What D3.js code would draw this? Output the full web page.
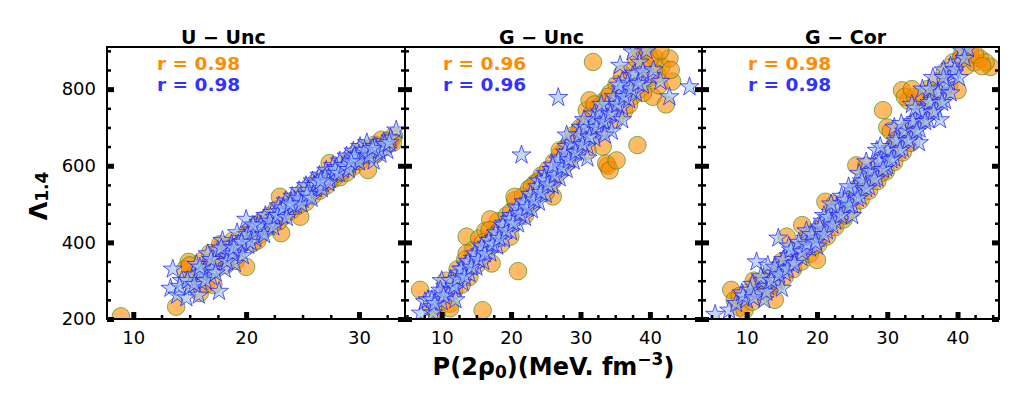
<!DOCTYPE html>
<html>
<head>
<meta charset="utf-8">
<script src="https://cdn.jsdelivr.net/npm/d3@7"></script>
<style>
  body { margin: 0; background: #fff; }
  svg { font-family: "DejaVu Sans", sans-serif; }
</style>
</head>
<body>
<div id="chart"></div>
<script>
// panel labels and correlation values
const panelTitles = ["U \u2212 Unc", "G \u2212 Unc", "G \u2212 Cor"];
const rOrange = ["0.98", "0.96", "0.98"];
const rBlue = ["0.98", "0.96", "0.98"];
const yTicks = [200, 400, 600, 800];
const xTicks = [[10, 20, 30], [10, 20, 30, 40], [10, 20, 30, 40]];

// [P(2rho0), Lambda_1.4]
const uUncCircles = [[8.9,207],[13.8,232],[14.9,349],[14.6,330],[15.2,300],[15.5,318],[15.9,268],[16.1,352],[16.4,290],[16.8,372],[17.1,289],[17.3,335],[17.6,360],[17.9,392],[18.2,341],[18.5,378],[18.8,404],[19.1,352],[19.4,392],[19.8,418],[20.0,336],[20.3,430],[20.6,398],[20.9,446],[21.2,420],[21.5,458],[21.8,437],[22.1,470],[22.4,448],[22.7,486],[23.0,519],[23.1,424],[23.4,470],[23.7,498],[24.0,482],[24.3,512],[24.8,467],[25.0,530],[25.3,505],[25.6,545],[25.9,522],[26.2,558],[26.5,535],[26.8,570],[27.1,548],[27.4,607],[27.7,565],[28.0,590],[28.3,570],[28.6,604],[28.9,582],[29.2,620],[29.5,598],[29.8,634],[30.1,612],[30.4,645],[30.8,589],[31.1,628],[31.4,655],[31.7,640],[32.0,668],[32.3,648],[32.8,662],[33.1,678],[22.9,455],[24.6,496],[26.0,540],[27.9,578],[19.0,380],[18.0,365],[21.0,405],[29.5,610],[31.0,640],
  [15.0,340],[16.0,310],[17.0,350],[18.6,360],[19.6,395],[21.4,440],[22.2,455],[23.5,485],[24.5,510],[25.2,520],[26.4,545],[27.3,560],[28.4,585],[29.0,600],[30.2,625],[31.5,630],[32.6,665],[17.7,395],[20.7,420],[33.0,660]];
const uUncStars = [[13.3,280],[13.5,330],[13.9,262],[14.3,300],[14.7,255],[15.0,282],[15.3,315],[15.6,342],[15.8,262],[16.0,296],[16.3,325],[16.6,370],[16.9,310],[17.2,348],[17.5,380],[17.6,272],[17.9,405],[18.1,330],[18.4,362],[18.7,395],[19.0,345],[19.2,425],[19.5,378],[19.8,410],[20.0,460],[20.2,392],[20.5,432],[20.8,410],[21.1,452],[21.4,425],[21.7,470],[22.0,440],[22.3,478],[22.6,455],[22.9,495],[23.2,470],[23.5,508],[23.8,485],[24.1,520],[24.4,498],[24.7,535],[25.0,512],[25.3,548],[25.6,522],[25.9,560],[26.2,540],[26.5,575],[26.8,552],[27.1,588],[27.4,565],[27.7,600],[28.0,578],[28.3,612],[28.6,590],[28.9,625],[29.2,602],[29.5,638],[29.8,615],[30.1,650],[30.4,625],[30.7,660],[31.0,640],[31.3,612],[31.6,648],[31.9,630],[32.2,662],[32.5,640],[33.3,693],[32.8,672],[21.0,440],[22.5,465],[24.0,505],[26.0,548],[28.0,595],[30.0,630],[18.5,375],[17.0,330],[16.0,320],[23.0,480],[25.5,535],[27.5,580],[29.5,620],
  [14.1,285],[14.8,300],[15.4,290],[15.9,335],[16.4,300],[16.9,355],[17.3,320],[17.8,385],[18.3,350],[18.8,370],[19.3,395],[19.7,365],[20.1,420],[20.4,400],[20.9,430],[21.3,445],[21.6,420],[22.1,455],[22.4,440],[22.8,470],[23.3,490],[23.6,465],[24.2,495],[24.6,515],[24.9,500],[25.4,525],[25.8,515],[26.3,555],[26.7,540],[27.0,570],[27.3,555],[27.9,590],[28.2,580],[28.7,600],[29.1,590],[29.6,625],[30.0,610],[30.5,640],[30.9,625],[31.4,650],[31.8,640],[32.3,655],[32.7,660],[20.6,445],[19.6,400],[18.9,385],[23.9,500],[26.6,560],[29.3,610],[31.2,645]];

const gUncCircles = [[6.9,276],[8.5,230],[9.3,215],[10.0,260],[10.6,300],[11.2,240],[11.8,275],[12.3,330],[12.9,290],[13.4,355],[13.6,415],[14.0,310],[14.5,380],[15.0,340],[15.4,410],[15.9,362],[16.3,430],[16.8,385],[17.2,345],[17.6,420],[18.1,455],[18.5,395],[19.0,440],[19.4,470],[19.9,415],[20.3,460],[20.6,510],[21.0,325],[21.2,478],[21.7,520],[22.1,495],[22.6,540],[23.0,500],[23.5,555],[24.0,530],[24.4,575],[24.9,548],[25.3,590],[25.8,565],[26.2,610],[26.7,580],[27.1,630],[27.6,600],[28.0,650],[28.5,620],[28.9,665],[29.4,640],[29.8,690],[30.3,660],[30.7,710],[31.2,680],[31.8,871],[31.6,735],[32.1,700],[32.6,755],[33.0,720],[33.5,770],[33.9,600],[34.3,790],[34.7,745],[35.2,812],[35.6,760],[36.5,800],[37.0,830],[37.4,780],[37.8,850],[38.2,654],[38.6,800],[39.0,860],[39.5,906],[40.0,830],[40.4,780],[40.8,880],[41.3,810],[41.7,860],[42.3,760],[42.8,880],[43.2,820],[36.3,745],[33.2,650],[31.0,640],[26.0,520],[17.0,460],[30.9,745],[31.3,771],[20.5,519],[16.9,432],[13.6,371],[11.2,228],[15.9,223],[33.7,606],[34.2,588],[35.2,614],[38.5,906],
  [12.0,300],[14.2,345],[16.0,400],[18.3,430],[20.0,480],[22.0,470],[24.0,560],[26.0,560],[28.0,610],[30.0,700],[32.0,760],[34.0,780],[36.0,840],[38.0,880],[40.0,880],[41.0,840],[39.0,790],[37.0,760],[35.0,720],[33.0,690],[29.0,680],[27.0,640],[25.0,530],[23.0,545],[41.5,900],[43.0,850]];
const gUncStars = [[7.0,215],[7.6,245],[8.0,250],[8.7,232],[9.4,265],[10.0,245],[10.5,285],[11.0,265],[11.5,300],[12.0,280],[12.5,320],[13.0,295],[13.5,340],[14.0,318],[14.5,358],[15.0,335],[15.5,375],[16.0,350],[16.5,395],[17.0,372],[17.5,410],[18.0,390],[18.5,432],[19.0,408],[19.5,450],[20.0,428],[20.5,470],[21.0,448],[21.5,628],[21.5,490],[22.0,465],[22.5,508],[23.0,485],[23.5,528],[24.0,505],[24.5,548],[25.0,525],[25.5,570],[26.0,548],[26.5,590],[26.8,778],[27.0,568],[27.5,612],[28.0,590],[28.5,635],[29.0,612],[29.5,655],[30.0,632],[30.5,675],[31.0,652],[31.5,695],[32.0,672],[32.5,715],[33.0,692],[33.5,735],[34.0,712],[34.5,755],[35.0,732],[35.5,775],[36.0,752],[36.5,795],[37.0,772],[37.5,835],[38.0,790],[38.5,870],[39.0,810],[39.5,900],[40.0,835],[41.5,820],[45.7,806],[34.5,690],[30.0,700],[28.0,650],[25.0,580],[22.0,500],[19.0,450],[16.0,380],[13.0,330],[10.0,300],[12.0,250],[24.0,560],[32.0,735],[36.0,820],[27.0,620],[20.0,470],[8.6,250],[8.8,216],[35.7,862],[37.5,897],[42.8,780],
  [9.0,240],[9.8,275],[10.3,260],[11.2,300],[11.8,285],[12.3,305],[12.8,330],[13.3,310],[13.8,350],[14.3,335],[14.8,370],[15.3,355],[15.8,390],[16.2,370],[16.8,405],[17.3,395],[17.8,425],[18.3,410],[18.8,445],[19.3,430],[19.8,460],[20.3,450],[20.8,490],[21.3,475],[21.8,505],[22.3,490],[22.8,525],[23.3,510],[23.8,545],[24.3,530],[24.8,565],[25.3,550],[25.8,590],[26.3,575],[26.8,615],[27.3,595],[27.8,635],[28.3,615],[28.8,660],[29.3,635],[29.8,680],[30.3,655],[30.8,700],[31.3,675],[31.8,720],[32.3,700],[32.8,740],[33.3,715],[33.8,760],[34.3,735],[34.8,780],[35.3,760],[35.8,800],[36.3,780],[36.8,815],[37.3,800],[37.8,840],[38.3,815],[39.0,845],[40.5,850],[30.5,720],[33.0,760],[35.5,810],[28.0,680],[26.0,600],[31.0,620],[33.5,680],[36.0,720]];

const gCorCircles = [[7.8,276],[8.3,250],[9.0,230],[9.7,223],[10.2,270],[10.8,245],[11.3,290],[11.9,260],[12.4,300],[13.0,275],[13.6,320],[14.2,290],[14.8,340],[15.4,310],[15.7,415],[16.0,360],[16.6,330],[17.2,380],[17.9,445],[17.8,350],[18.4,400],[19.0,370],[19.6,420],[20.0,354],[20.2,395],[20.8,440],[21.2,506],[21.4,415],[22.0,465],[22.6,440],[23.2,490],[23.8,460],[24.4,515],[25.0,485],[25.6,601],[25.6,540],[26.2,510],[26.8,565],[27.4,535],[28.0,590],[28.6,560],[29.2,615],[29.4,745],[29.8,585],[30.4,640],[31.0,610],[31.6,665],[32.1,797],[32.2,635],[32.8,690],[33.4,660],[34.0,715],[34.6,780],[35.2,740],[35.8,800],[36.4,760],[37.0,820],[37.6,780],[38.2,845],[38.8,810],[39.4,870],[40.0,797],[40.6,890],[41.2,860],[41.8,897],[42.4,870],[43.2,880],[44.7,858],[44.0,870],[33.0,770],[32.5,780],[36.0,740],[30.0,700],[27.0,600],[24.0,470],[19.5,390],[14.0,250],[22.5,500],
  [9.0,260],[11.0,300],[13.0,300],[15.0,350],[17.0,360],[18.8,420],[21.0,450],[23.0,470],[25.0,520],[27.0,560],[29.0,580],[31.0,650],[33.0,700],[35.0,720],[37.0,790],[39.0,840],[40.5,880],[42.5,890],[43.5,860],[34.0,780],[33.5,800],[30.5,690]];
const gCorStars = [[5.5,212],[7.5,223],[8.5,240],[9.3,268],[10.0,250],[10.8,290],[11.4,349],[11.6,270],[12.3,300],[13.0,285],[13.6,320],[14.2,300],[14.5,411],[14.8,340],[15.4,320],[16.0,365],[16.6,340],[17.2,385],[17.8,360],[18.4,410],[19.0,385],[19.6,432],[20.2,410],[20.8,455],[21.4,430],[22.0,478],[22.6,455],[23.2,500],[23.8,475],[24.4,522],[25.0,498],[25.6,545],[26.2,520],[26.8,570],[27.4,545],[28.0,595],[28.6,568],[29.2,620],[29.8,595],[30.4,645],[31.0,620],[31.6,670],[32.2,645],[32.8,695],[33.4,670],[34.0,720],[34.6,695],[35.2,745],[35.8,720],[36.4,770],[37.0,745],[37.6,795],[38.2,770],[38.8,820],[39.4,840],[40.0,870],[40.6,900],[39.0,860],[38.0,850],[36.5,830],[35.0,800],[33.5,760],[31.0,700],[28.5,640],[26.0,580],[23.5,520],[21.0,470],[18.5,430],[16.0,390],[13.0,340],[20.0,390],[25.0,470],[30.0,600],[34.5,660],[37.5,720],[41.5,905],[12.5,250],[15.0,280],
  [9.5,260],[10.5,275],[11.0,255],[12.0,310],[12.8,270],[13.5,300],[14.0,335],[14.6,315],[15.2,355],[15.8,330],[16.3,380],[16.8,345],[17.4,400],[17.9,375],[18.6,395],[19.2,420],[19.8,400],[20.4,440],[21.0,420],[21.6,465],[22.2,445],[22.8,490],[23.4,470],[24.0,510],[24.6,495],[25.2,535],[25.8,515],[26.4,560],[27.0,540],[27.6,585],[28.2,565],[28.8,610],[29.4,590],[30.0,640],[30.6,615],[31.2,665],[31.8,640],[32.4,690],[33.0,665],[33.6,715],[34.2,690],[34.8,740],[35.4,715],[36.0,765],[36.6,740],[37.2,790],[37.8,765],[38.4,810],[39.0,790],[39.6,850],[40.2,830],[41.0,880],[32.0,710],[34.0,750],[36.0,800],[38.0,830],[29.0,650],[27.0,610],[24.5,545],[22.0,500]];

const circleSets = [uUncCircles, gUncCircles, gCorCircles];
const starSets = [uUncStars, gUncStars, gCorStars];

const width = 1028, height = 413;
const plotTop = 47, plotBottom = 319;
const panelLeft = [107, 405, 702];
const panelRight = [405, 702, 999];
const xDomains = [[7.67, 34.08], [4.72, 47.5], [3.64, 45.9]];
const titleX = [181, 499, 805];
const rX = [157, 443, 748];

const svg = d3.select("#chart")
    .append("svg")
    .attr("width", width)
    .attr("height", height);

const y = d3.scaleLinear().domain([200, 910]).range([plotBottom, plotTop]);
const yMinor = d3.range(250, 910, 50).filter(v => v % 200 !== 0);

const star = d3.symbol().type(d3.symbolStar).size(112);

function styleAxis(g, w) {
    g.select(".domain").remove();
    g.selectAll(".tick line").attr("stroke", "#000").attr("stroke-width", w);
    g.selectAll(".tick text")
        .attr("fill", "#000")
        .style("font-size", "18px")
        .style("font-family", "DejaVu Sans, sans-serif");
}

for (let i = 0; i < 3; i++) {
    const x = d3.scaleLinear().domain(xDomains[i]).range([panelLeft[i], panelRight[i]]);
    const xMinor = d3.range(2.5, 50, 2.5).filter(v => v % 10 !== 0 && v > xDomains[i][0] && v < xDomains[i][1]);

    svg.append("clipPath").attr("id", "clip" + i)
        .append("rect")
        .attr("x", panelLeft[i]).attr("y", plotTop)
        .attr("width", panelRight[i] - panelLeft[i])
        .attr("height", plotBottom - plotTop);

    const marks = svg.append("g").attr("clip-path", `url(#clip${i})`);

    marks.selectAll("circle")
        .data(circleSets[i])
        .join("circle")
        .attr("cx", d => x(d[0]))
        .attr("cy", d => y(d[1]))
        .attr("r", 8.8)
        .attr("fill", "#ff8c00")
        .attr("fill-opacity", 0.6)
        .attr("stroke", "#228b22")
        .attr("stroke-opacity", 0.6)
        .attr("stroke-width", 1);

    marks.selectAll("path.star")
        .data(starSets[i])
        .join("path")
        .attr("class", "star")
        .attr("d", star)
        .attr("transform", d => `translate(${x(d[0])},${y(d[1])})`)
        .attr("fill", "#9fc4ee")
        .attr("fill-opacity", 0.65)
        .attr("stroke", "#1a1aff")
        .attr("stroke-opacity", 0.7)
        .attr("stroke-width", 1);

    // bottom ticks
    svg.append("g")
        .attr("transform", `translate(0,${plotBottom})`)
        .call(d3.axisBottom(x).tickValues(xMinor).tickSize(-4).tickFormat(""))
        .call(g => styleAxis(g, 2.5));
    svg.append("g")
        .attr("transform", `translate(0,${plotBottom})`)
        .call(d3.axisBottom(x).tickValues(xTicks[i]).tickSize(-7).tickPadding(12).tickFormat(d3.format("d")))
        .call(g => styleAxis(g, 5));

    // left and right ticks
    svg.append("g")
        .attr("transform", `translate(${panelLeft[i]},0)`)
        .call(d3.axisLeft(y).tickValues(yMinor).tickSize(-4).tickFormat(""))
        .call(g => styleAxis(g, 2.5));
    svg.append("g")
        .attr("transform", `translate(${panelLeft[i]},0)`)
        .call(d3.axisLeft(y).tickValues(yTicks).tickSize(-7).tickPadding(11)
            .tickFormat(i === 0 ? d3.format("d") : ""))
        .call(g => styleAxis(g, 5));
    svg.append("g")
        .attr("transform", `translate(${panelRight[i]},0)`)
        .call(d3.axisRight(y).tickValues(yMinor).tickSize(-4).tickFormat(""))
        .call(g => styleAxis(g, 2.5));
    svg.append("g")
        .attr("transform", `translate(${panelRight[i]},0)`)
        .call(d3.axisRight(y).tickValues(yTicks).tickSize(-7).tickFormat(""))
        .call(g => styleAxis(g, 5));

    svg.append("rect")
        .attr("x", panelLeft[i]).attr("y", plotTop)
        .attr("width", panelRight[i] - panelLeft[i])
        .attr("height", plotBottom - plotTop)
        .attr("fill", "none")
        .attr("stroke", "#000")
        .attr("stroke-width", 2);

    svg.append("text")
        .attr("x", titleX[i]).attr("y", 44)
        .style("font-size", "19px").style("font-weight", "bold")
        .text(panelTitles[i]);

    svg.append("text")
        .attr("x", rX[i]).attr("y", 70)
        .attr("fill", "#ff8c00")
        .style("font-size", "18.5px").style("font-weight", "bold")
        .text("r = " + rOrange[i]);
    svg.append("text")
        .attr("x", rX[i]).attr("y", 91)
        .attr("fill", "#3333ff")
        .style("font-size", "18.5px").style("font-weight", "bold")
        .text("r = " + rBlue[i]);
}

// axis labels
const yLabel = svg.append("text")
    .attr("transform", "translate(47,196) rotate(-90)")
    .attr("text-anchor", "middle")
    .style("font-size", "24px").style("font-weight", "bold");
yLabel.append("tspan").text("\u039b");
yLabel.append("tspan").attr("dy", 1).style("font-size", "17px").text("1.4");

const xLabel = svg.append("text")
    .attr("x", 553.5).attr("y", 375)
    .attr("text-anchor", "middle")
    .style("font-size", "24px").style("font-weight", "bold");
xLabel.append("tspan").text("P(2\u03c1");
xLabel.append("tspan").attr("dy", 3).style("font-size", "17px").text("0");
xLabel.append("tspan").attr("dy", -3).text(")(MeV. fm");
xLabel.append("tspan").attr("dy", -10).style("font-size", "17px").text("\u22123");
xLabel.append("tspan").attr("dy", 10).text(")");
</script>
</body>
</html>
